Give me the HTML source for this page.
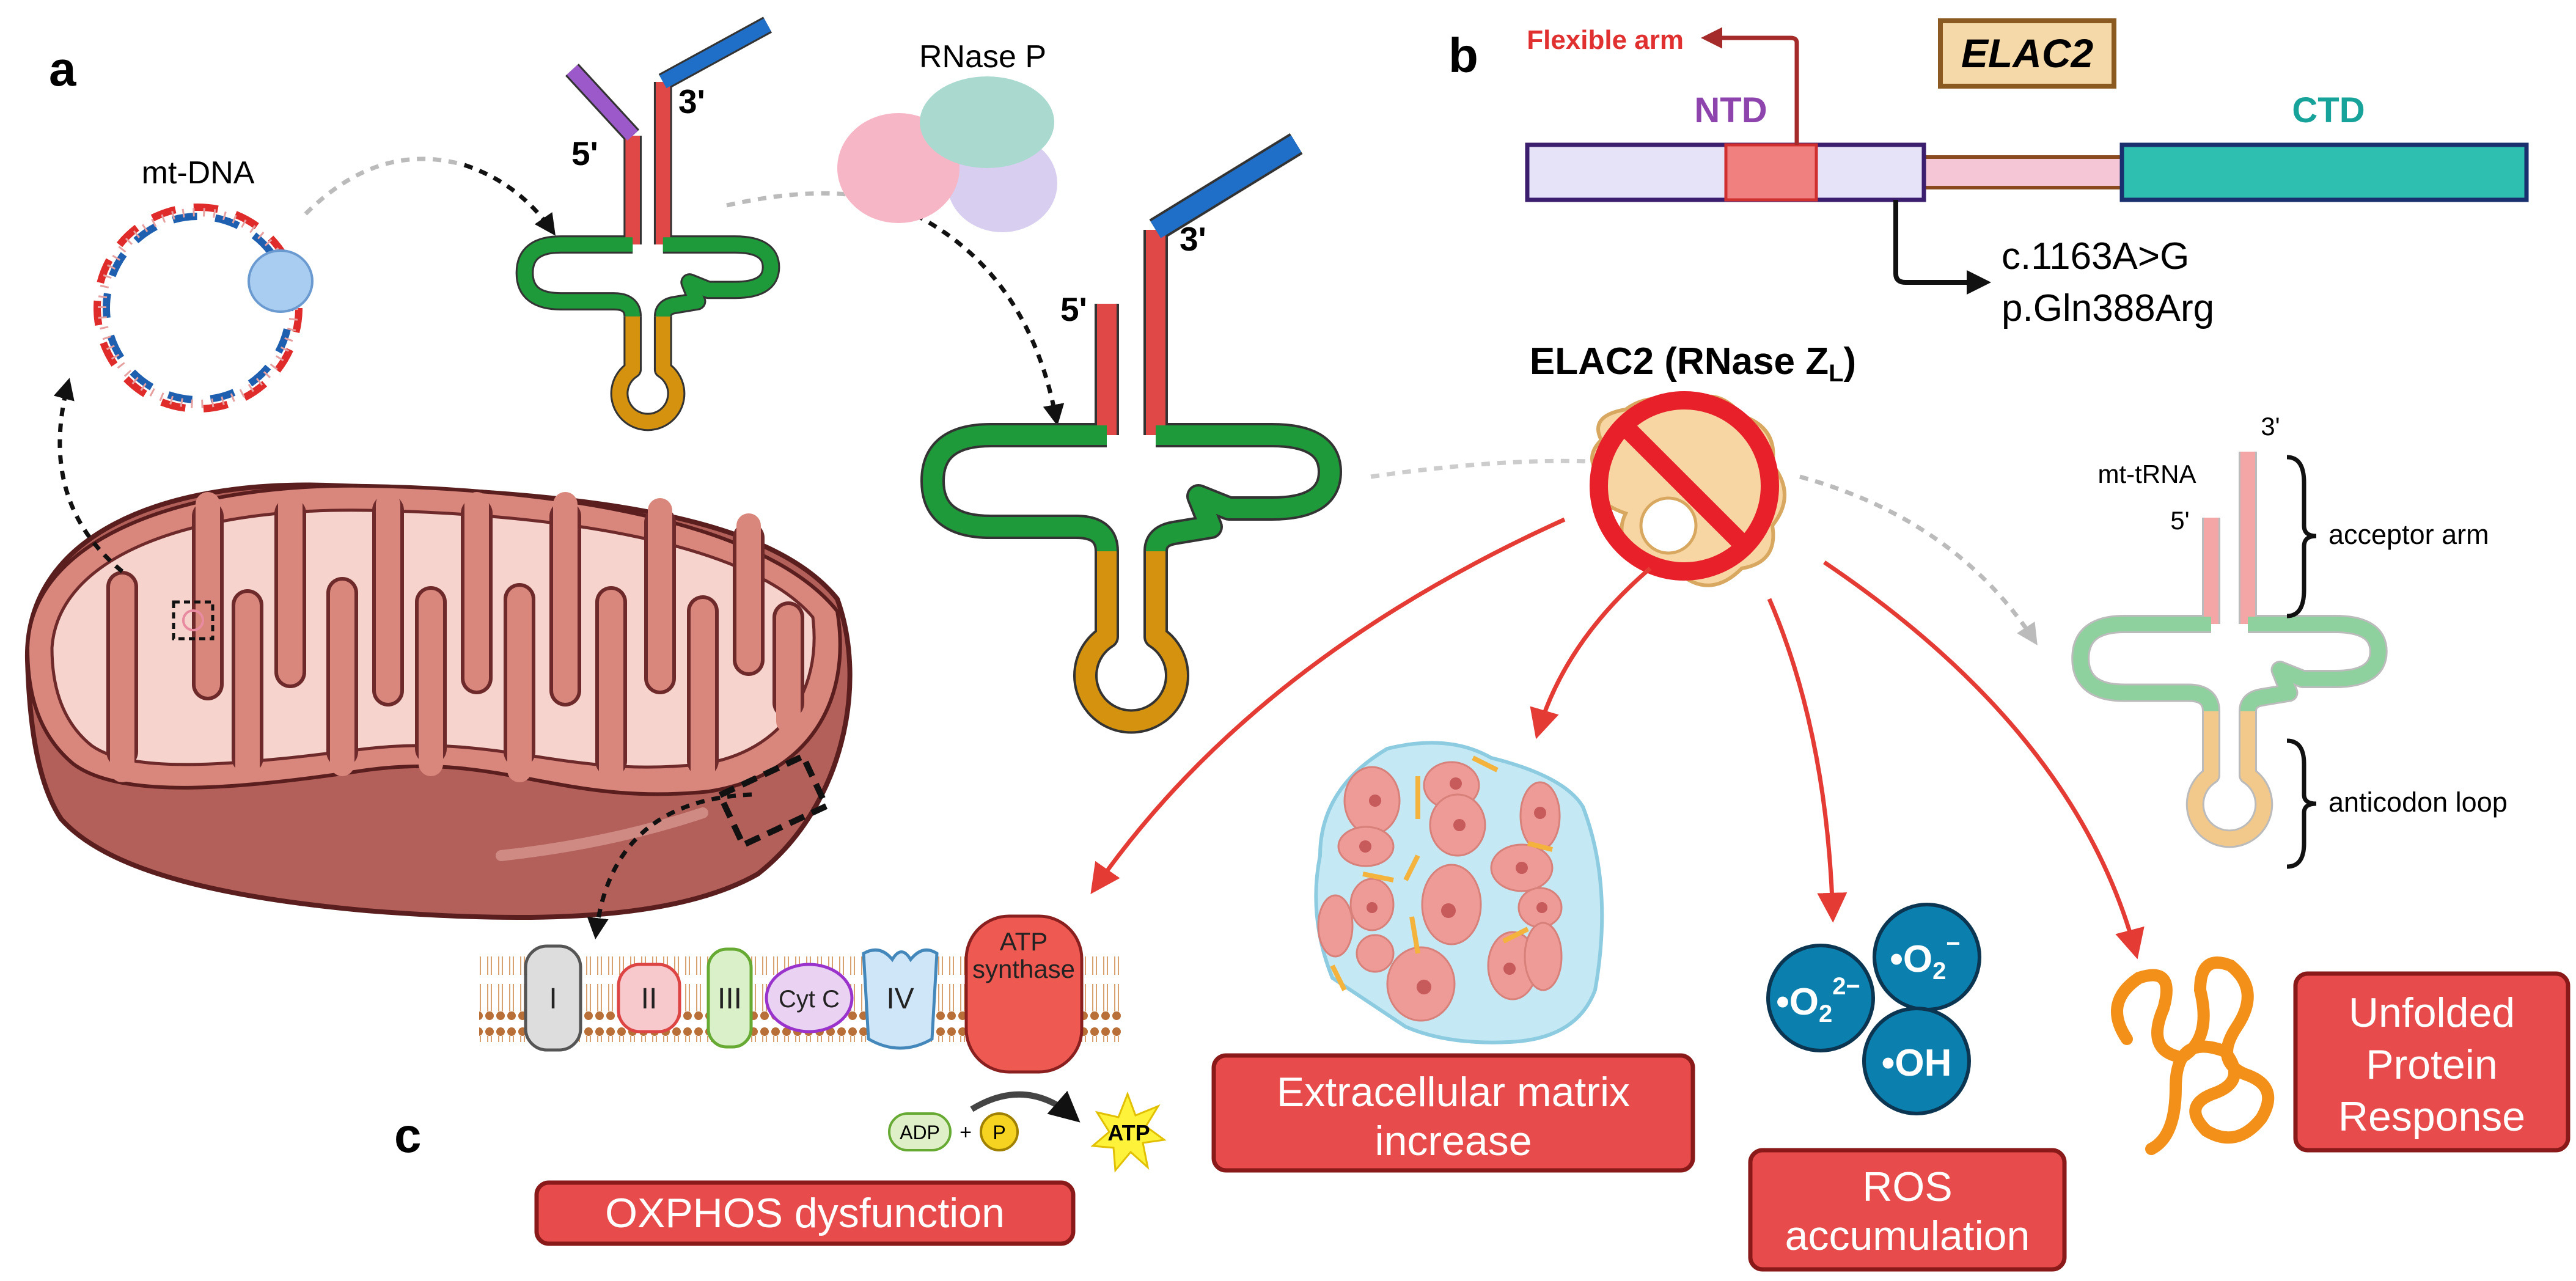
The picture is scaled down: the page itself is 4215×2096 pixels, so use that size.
<!DOCTYPE html>
<html><head><meta charset="utf-8"><style>
html,body{margin:0;padding:0;background:#fff;}
svg{display:block;font-family:"Liberation Sans",sans-serif;}
</style></head><body>
<svg width="4215" height="2096" viewBox="0 0 4215 2096" xmlns="http://www.w3.org/2000/svg">
<defs>
<marker id="ab" viewBox="0 0 10 10" refX="8" refY="5" markerWidth="5" markerHeight="5" orient="auto"><path d="M0 0L10 5L0 10Z" fill="#111"/></marker>
<marker id="ar" viewBox="0 0 10 10" refX="8" refY="5" markerWidth="7" markerHeight="7" orient="auto"><path d="M0 0L10 5L0 10Z" fill="#e53b35"/></marker>
<marker id="ag" viewBox="0 0 10 10" refX="8" refY="5" markerWidth="5" markerHeight="5" orient="auto"><path d="M0 0L10 5L0 10Z" fill="#bbb"/></marker>
<marker id="adr" viewBox="0 0 10 10" refX="8" refY="5" markerWidth="5" markerHeight="5" orient="auto"><path d="M0 0L10 5L0 10Z" fill="#a52a2a"/></marker>
<pattern id="lip" width="18" height="140" patternUnits="userSpaceOnUse">
<circle cx="9" cy="8" r="7" fill="#b86f38"/><line x1="6" y1="15" x2="6" y2="55" stroke="#d9a070" stroke-width="2"/><line x1="12" y1="15" x2="12" y2="55" stroke="#d9a070" stroke-width="2"/>
<line x1="6" y1="70" x2="6" y2="115" stroke="#d9a070" stroke-width="2"/><line x1="12" y1="70" x2="12" y2="115" stroke="#d9a070" stroke-width="2"/><circle cx="9" cy="122" r="7" fill="#b86f38"/>
</pattern>
</defs>

<!-- panel letters -->
<text x="80" y="140" font-size="80" font-weight="bold">a</text>
<text x="2370" y="118" font-size="80" font-weight="bold">b</text>
<text x="645" y="1885" font-size="80" font-weight="bold">c</text>

<!-- Mitochondrion -->
<path d="M45 1080 C40 880 260 780 560 795 C900 805 1250 830 1370 980 C1420 1120 1380 1320 1240 1430 C1100 1510 850 1510 600 1490 C380 1470 180 1430 100 1340 C60 1280 48 1180 45 1080Z" fill="#b3605a" stroke="#5a1e1e" stroke-width="8"/>
<path d="M45 1060 C50 880 300 790 600 795 C900 800 1250 850 1370 1000 C1395 1150 1320 1270 1160 1295 C920 1320 820 1230 600 1260 C400 1290 200 1310 120 1250 C60 1200 45 1130 45 1060Z" fill="#d9877c" stroke="#5a1e1e" stroke-width="6"/>
<path d="M85 1060 C95 910 310 830 600 835 C880 840 1220 880 1330 1010 C1345 1130 1280 1230 1150 1250 C930 1275 820 1200 600 1225 C400 1250 220 1270 150 1220 C100 1180 85 1120 85 1060Z" fill="#f6d3cc" stroke="#6e2a2a" stroke-width="5"/>
<g stroke="#6e2a2a" stroke-width="52" stroke-linecap="round" fill="none">
<path d="M340 845V1120M475 840V1100M635 835V1130M780 840V1110M925 845V1130M1080 855V1110M1225 880V1080"/>
<path d="M200 1230V960M405 1240V990M560 1230V970M705 1225V985M850 1230V980M1000 1245V985M1150 1245V1000M1290 1150V1010"/>
</g>
<g stroke="#d9877c" stroke-width="40" stroke-linecap="round" fill="none">
<path d="M340 825V1120M475 825V1100M635 825V1130M780 825V1110M925 825V1130M1080 835V1110M1225 860V1080"/>
<path d="M200 1260V960M405 1260V990M560 1250V970M705 1250V985M850 1260V980M1000 1270V985M1150 1270V1000M1290 1180V1010"/>
</g>
<path d="M820 1400 Q1000 1380 1150 1330" stroke="#cf8a84" stroke-width="18" fill="none" stroke-linecap="round"/>
<rect x="284" y="985" width="64" height="60" fill="none" stroke="#111" stroke-width="5" stroke-dasharray="10 7"/>
<circle cx="316" cy="1015" r="16" fill="none" stroke="#e88aa0" stroke-width="4"/>
<rect x="1190" y="1265" width="150" height="90" fill="none" stroke="#111" stroke-width="10" stroke-dasharray="26 14" transform="rotate(-25 1265 1310)"/>

<!-- dashed black arrows -->
<path d="M200 935 Q60 820 112 625" fill="none" stroke="#111" stroke-width="7" stroke-dasharray="14 12" marker-end="url(#ab)"/>
<path d="M500 350 Q620 230 760 270" fill="none" stroke="#bbb" stroke-width="7" stroke-dasharray="14 12"/>
<path d="M760 270 Q850 300 905 380" fill="none" stroke="#111" stroke-width="7" stroke-dasharray="14 12" marker-end="url(#ab)"/>
<path d="M1189 336 Q1350 300 1450 330" fill="none" stroke="#bbb" stroke-width="7" stroke-dasharray="14 12"/>
<path d="M1450 330 Q1680 420 1729 690" fill="none" stroke="#111" stroke-width="7" stroke-dasharray="14 12" marker-end="url(#ab)"/>
<path d="M1230 1300 Q1000 1310 975 1530" fill="none" stroke="#111" stroke-width="7" stroke-dasharray="14 12" marker-end="url(#ab)"/>

<!-- mt-DNA -->
<text x="324" y="300" font-size="52" text-anchor="middle">mt-DNA</text>
<circle cx="324" cy="504" r="165" fill="none" stroke="#e02b2b" stroke-width="12" stroke-dasharray="40 30"/>
<circle cx="324" cy="504" r="150" fill="none" stroke="#1f5fb0" stroke-width="12" stroke-dasharray="40 30" stroke-dashoffset="35"/>
<circle cx="324" cy="504" r="157" fill="none" stroke="#e6a0a0" stroke-width="14" stroke-dasharray="3 14"/>
<ellipse cx="459" cy="460" rx="52" ry="50" fill="#a9cdf0" stroke="#6a9ad0" stroke-width="4"/>

<!-- RNase P -->
<text x="1608" y="110" font-size="52" text-anchor="middle">RNase P</text>
<ellipse cx="1640" cy="300" rx="90" ry="80" fill="#d8cef0"/>
<ellipse cx="1470" cy="275" rx="100" ry="90" fill="#f7b6c6"/>
<ellipse cx="1615" cy="200" rx="110" ry="75" fill="#a9d9cf"/>

<!-- tRNA 1 -->
<g transform="translate(1060,400) scale(0.62)" fill="none" stroke-linejoin="round">
<g stroke="#333" stroke-width="48">
<path d="M-40 -287V0M40 -429V0M-40 -287L-200 -461M40 -429L316 -580"/>
<path d="M-40 0H-230Q-325 0 -325 75Q-325 150 -230 150H-90Q-40 150 -40 190"/>
<path d="M-40 190V330A75 75 0 1 0 40 330V190"/>
<path d="M40 0H230Q325 0 325 60Q325 120 230 120H160L110 100L130 150L70 160Q40 165 40 190"/>
</g>
<g stroke-width="38">
<path d="M-40 -287V0M40 -429V0" stroke="#e04848"/>
<path d="M-40 -287L-200 -461" stroke="#9b59c9"/>
<path d="M40 -429L316 -580" stroke="#1f6fc9"/>
<path d="M-40 0H-230Q-325 0 -325 75Q-325 150 -230 150H-90Q-40 150 -40 190" stroke="#1e9a3a"/>
<path d="M-40 190V330A75 75 0 1 0 40 330V190" stroke="#d4920e"/>
<path d="M40 0H230Q325 0 325 60Q325 120 230 120H160L110 100L130 150L70 160Q40 165 40 190" stroke="#1e9a3a"/>
</g>
</g>
<text x="935" y="270" font-size="55" font-weight="bold">5'</text>
<text x="1110" y="185" font-size="55" font-weight="bold">3'</text>

<!-- tRNA 2 -->
<g transform="translate(1851,712)" fill="none" stroke-linejoin="round">
<g stroke="#333" stroke-width="40">
<path d="M-40 -215V0M40 -336V0M40 -336L270 -477"/>
<path d="M-40 0H-230Q-325 0 -325 75Q-325 150 -230 150H-90Q-40 150 -40 190"/>
<path d="M-40 190V330A75 75 0 1 0 40 330V190"/>
<path d="M40 0H230Q325 0 325 60Q325 120 230 120H160L110 100L130 150L70 160Q40 165 40 190"/>
</g>
<g stroke-width="32">
<path d="M-40 -215V0M40 -336V0" stroke="#e04848"/>
<path d="M40 -336L270 -477" stroke="#1f6fc9"/>
<path d="M-40 0H-230Q-325 0 -325 75Q-325 150 -230 150H-90Q-40 150 -40 190" stroke="#1e9a3a"/>
<path d="M-40 190V330A75 75 0 1 0 40 330V190" stroke="#d4920e"/>
<path d="M40 0H230Q325 0 325 60Q325 120 230 120H160L110 100L130 150L70 160Q40 165 40 190" stroke="#1e9a3a"/>
</g>
</g>
<text x="1735" y="525" font-size="55" font-weight="bold">5'</text>
<text x="1930" y="410" font-size="55" font-weight="bold">3'</text>

<!-- tRNA 3 (light) -->
<g transform="translate(3648,1021) scale(0.75)" fill="none" stroke-linejoin="round">
<g stroke="#bbb" stroke-width="40">
<path d="M-40 -232V0M40 -376V0"/>
<path d="M-40 0H-230Q-325 0 -325 75Q-325 150 -230 150H-90Q-40 150 -40 190"/>
<path d="M-40 190V330A75 75 0 1 0 40 330V190"/>
<path d="M40 0H230Q325 0 325 60Q325 120 230 120H160L110 100L130 150L70 160Q40 165 40 190"/>
</g>
<g stroke-width="32">
<path d="M-40 -232V0M40 -376V0" stroke="#f4a6a6"/>
<path d="M-40 0H-230Q-325 0 -325 75Q-325 150 -230 150H-90Q-40 150 -40 190" stroke="#8fd19e"/>
<path d="M-40 190V330A75 75 0 1 0 40 330V190" stroke="#f2c98a"/>
<path d="M40 0H230Q325 0 325 60Q325 120 230 120H160L110 100L130 150L70 160Q40 165 40 190" stroke="#8fd19e"/>
</g>
</g>
<text x="3513" y="790" font-size="42" text-anchor="middle">mt-tRNA</text>
<text x="3567" y="866" font-size="42" text-anchor="middle">5'</text>
<text x="3715" y="712" font-size="42" text-anchor="middle">3'</text>
<path d="M3742 748 Q3770 748 3770 790 V860 Q3770 877 3790 877 Q3770 877 3770 894 V965 Q3770 1008 3742 1008" fill="none" stroke="#111" stroke-width="7"/>
<text x="3810" y="890" font-size="45">acceptor arm</text>
<path d="M3742 1212 Q3770 1212 3770 1250 V1300 Q3770 1315 3790 1315 Q3770 1315 3770 1330 V1380 Q3770 1418 3742 1418" fill="none" stroke="#111" stroke-width="7"/>
<text x="3810" y="1328" font-size="45">anticodon loop</text>

<!-- b panel -->
<rect x="3175" y="34" width="284" height="107" fill="#f5d9a8" stroke="#8a5a20" stroke-width="8"/>
<text x="3317" y="110" font-size="66" font-weight="bold" font-style="italic" text-anchor="middle">ELAC2</text>
<text x="2832" y="200" font-size="58" font-weight="bold" fill="#8e44ad" text-anchor="middle">NTD</text>
<text x="3810" y="200" font-size="58" font-weight="bold" fill="#17a39a" text-anchor="middle">CTD</text>
<rect x="3148" y="257" width="324" height="50" fill="#f5c6d6" stroke="#8a4a20" stroke-width="6"/>
<rect x="2499" y="237" width="649" height="90" fill="#e6e2f8" stroke="#3c1e6e" stroke-width="7"/>
<rect x="2824" y="237" width="148" height="90" fill="#f08080" stroke="#d03030" stroke-width="5"/>
<rect x="3472" y="237" width="662" height="90" fill="#2fbfb0" stroke="#1a2f6e" stroke-width="7"/>
<path d="M2940 237 V70 Q2940 62 2930 62 H2790" fill="none" stroke="#a52a2a" stroke-width="7" marker-end="url(#adr)"/>
<text x="2755" y="80" font-size="44" font-weight="bold" fill="#e03030" text-anchor="end">Flexible arm</text>
<path d="M3102 327 V448 Q3102 462 3118 462 H3250" fill="none" stroke="#111" stroke-width="8" marker-end="url(#ab)"/>
<text x="3275" y="440" font-size="62">c.1163A&gt;G</text>
<text x="3275" y="525" font-size="62">p.Gln388Arg</text>

<!-- ELAC2 enzyme -->
<text x="2770" y="612" font-size="62" font-weight="bold" text-anchor="middle">ELAC2 (RNase Z<tspan font-size="40" dy="12">L</tspan><tspan dy="-12">)</tspan></text>
<path d="M2620 720 Q2600 680 2660 670 Q2700 640 2760 660 Q2810 630 2850 680 Q2910 700 2900 760 Q2940 810 2900 860 Q2910 920 2850 930 Q2800 980 2750 940 Q2700 950 2680 910 Q2640 880 2660 840 Q2600 820 2620 780 Q2590 750 2620 720Z" fill="#f7d6a3" stroke="#d9a860" stroke-width="6"/>
<circle cx="2730" cy="860" r="45" fill="#fff" stroke="#d9a860" stroke-width="5"/>
<circle cx="2756" cy="795" r="140" fill="none" stroke="#e8202a" stroke-width="30"/>
<line x1="2657" y1="696" x2="2855" y2="894" stroke="#e8202a" stroke-width="30"/>

<!-- gray dashed -->
<path d="M2243 780 Q2450 750 2600 755" fill="none" stroke="#ccc" stroke-width="7" stroke-dasharray="14 12"/>
<path d="M2945 780 Q3200 850 3330 1050" fill="none" stroke="#bbb" stroke-width="7" stroke-dasharray="14 12" marker-end="url(#ag)"/>

<!-- red arrows -->
<g fill="none" stroke="#e53b35" stroke-width="7">
<path d="M2560 850 Q2050 1080 1790 1455" marker-end="url(#ar)"/>
<path d="M2700 930 Q2560 1050 2516 1200" marker-end="url(#ar)"/>
<path d="M2895 980 Q2990 1200 2999 1500" marker-end="url(#ar)"/>
<path d="M2985 920 Q3400 1200 3495 1560" marker-end="url(#ar)"/>
</g>

<!-- ECM -->
<path d="M2270 1225 Q2370 1200 2440 1240 Q2560 1270 2590 1320 Q2640 1450 2610 1620 Q2580 1700 2470 1705 Q2370 1710 2300 1680 Q2240 1640 2180 1600 Q2140 1500 2160 1400 Q2160 1290 2270 1225Z" fill="#c4e8f4" stroke="#8ccbe0" stroke-width="6"/>
<g fill="#ee9a96" stroke="#d8807a" stroke-width="3">
<ellipse cx="2245" cy="1310" rx="45" ry="55"/><ellipse cx="2375" cy="1285" rx="45" ry="38"/><ellipse cx="2520" cy="1335" rx="32" ry="55"/>
<ellipse cx="2235" cy="1385" rx="45" ry="32"/><ellipse cx="2385" cy="1350" rx="45" ry="50"/><ellipse cx="2490" cy="1420" rx="50" ry="38"/>
<ellipse cx="2245" cy="1480" rx="35" ry="42"/><ellipse cx="2375" cy="1480" rx="48" ry="65"/><ellipse cx="2520" cy="1485" rx="35" ry="32"/>
<ellipse cx="2185" cy="1515" rx="28" ry="50"/><ellipse cx="2250" cy="1560" rx="30" ry="30"/><ellipse cx="2325" cy="1610" rx="55" ry="60"/><ellipse cx="2475" cy="1580" rx="40" ry="55"/><ellipse cx="2525" cy="1565" rx="30" ry="55"/>
</g>
<g fill="#c75a5a">
<circle cx="2250" cy="1310" r="10"/><circle cx="2382" cy="1282" r="10"/><circle cx="2520" cy="1330" r="10"/><circle cx="2234" cy="1385" r="10"/><circle cx="2388" cy="1350" r="10"/><circle cx="2490" cy="1420" r="10"/><circle cx="2245" cy="1485" r="9"/><circle cx="2370" cy="1490" r="12"/><circle cx="2523" cy="1485" r="9"/><circle cx="2330" cy="1615" r="12"/><circle cx="2470" cy="1585" r="10"/>
</g>
<g stroke="#f3b33d" stroke-width="8" fill="none"><path d="M2320 1270 V1340M2410 1240 L2450 1260M2320 1400 L2300 1440M2500 1380 L2540 1390M2280 1440 L2230 1430M2310 1500 L2320 1560M2460 1540 L2500 1520M2180 1580 L2200 1620"/></g>

<!-- ROS -->
<g fill="#0b7fad" stroke="#0b3550" stroke-width="6"><circle cx="2979" cy="1633" r="86"/><circle cx="3153" cy="1566" r="86"/><circle cx="3136" cy="1736" r="86"/></g>
<g fill="#fff" font-weight="bold" font-size="62" text-anchor="middle">
<text x="2975" y="1660">•O<tspan font-size="40" dy="12">2</tspan><tspan font-size="40" dy="-45">2−</tspan></text>
<text x="3150" y="1590">•O<tspan font-size="40" dy="12">2</tspan><tspan font-size="40" dy="-45">−</tspan></text>
<text x="3136" y="1760">•OH</text>
</g>

<!-- unfolded protein -->
<path d="M3480 1700 Q3440 1640 3500 1600 Q3560 1580 3540 1650 Q3510 1720 3570 1730 Q3620 1700 3600 1620 Q3600 1560 3650 1580 Q3700 1620 3660 1680 Q3620 1740 3680 1760 Q3730 1780 3700 1830 Q3660 1880 3610 1850 Q3570 1810 3620 1790 Q3680 1770 3640 1720 Q3560 1690 3560 1780 Q3560 1860 3520 1880" fill="none" stroke="#f39019" stroke-width="20" stroke-linecap="round"/>

<!-- membrane -->
<rect x="784" y="1565" width="1053" height="140" fill="url(#lip)"/>
<rect x="860" y="1548" width="90" height="170" rx="35" fill="#ddd" stroke="#555" stroke-width="5"/>
<rect x="1012" y="1578" width="100" height="110" rx="35" fill="#f7c8cc" stroke="#d44" stroke-width="5"/>
<rect x="1159" y="1553" width="70" height="160" rx="30" fill="#d9f0c8" stroke="#6a3" stroke-width="5"/>
<ellipse cx="1324" cy="1633" rx="70" ry="55" fill="#ead2f2" stroke="#93c" stroke-width="5"/>
<path d="M1413 1560 Q1440 1545 1460 1570 Q1475 1545 1490 1570 Q1510 1545 1533 1560 L1525 1700 Q1473 1730 1421 1700Z" fill="#cfe6f8" stroke="#48b" stroke-width="5"/>
<rect x="1581" y="1499" width="189" height="255" rx="70" fill="#ee5a52" stroke="#8a1f1f" stroke-width="5"/>
<g font-size="48" text-anchor="middle" fill="#222">
<text x="905" y="1650">I</text><text x="1062" y="1650">II</text><text x="1194" y="1650">III</text><text x="1324" y="1648" font-size="40">Cyt C</text><text x="1473" y="1650">IV</text>
<text x="1675" y="1555" font-size="42">ATP</text><text x="1675" y="1600" font-size="42">synthase</text>
</g>
<rect x="1455" y="1822" width="100" height="60" rx="30" fill="#dff0c8" stroke="#6a3" stroke-width="4"/>
<text x="1505" y="1864" font-size="32" text-anchor="middle">ADP</text>
<text x="1580" y="1864" font-size="34" text-anchor="middle">+</text>
<circle cx="1635" cy="1852" r="30" fill="#f5d320" stroke="#a08000" stroke-width="4"/>
<text x="1635" y="1864" font-size="32" text-anchor="middle">P</text>
<path d="M1590 1815 Q1680 1760 1760 1830" fill="none" stroke="#444" stroke-width="10" marker-end="url(#ab)"/>
<path d="M1845 1790 L1858 1825 L1895 1810 L1875 1843 L1905 1865 L1870 1870 L1878 1910 L1850 1885 L1825 1915 L1822 1878 L1788 1875 L1815 1852 L1795 1820 L1830 1828Z" fill="#fff23a" stroke="#e0c000" stroke-width="3"/>
<text x="1847" y="1866" font-size="36" font-weight="bold" text-anchor="middle">ATP</text>

<!-- red boxes -->
<g fill="#e84b4b" stroke="#8a1a1a" stroke-width="7">
<rect x="878" y="1935" width="878" height="100" rx="20"/>
<rect x="1986" y="1727" width="784" height="188" rx="20"/>
<rect x="2864" y="1882" width="514" height="195" rx="20"/>
<rect x="3756" y="1593" width="446" height="289" rx="20"/>
</g>
<g fill="#fff" font-size="68" text-anchor="middle">
<text x="1317" y="2008">OXPHOS dysfunction</text>
<text x="2378" y="1810">Extracellular matrix</text><text x="2378" y="1890">increase</text>
<text x="3121" y="1965">ROS</text><text x="3121" y="2045">accumulation</text>
<text x="3979" y="1680">Unfolded</text><text x="3979" y="1765">Protein</text><text x="3979" y="1850">Response</text>
</g>
</svg>
</body></html>
